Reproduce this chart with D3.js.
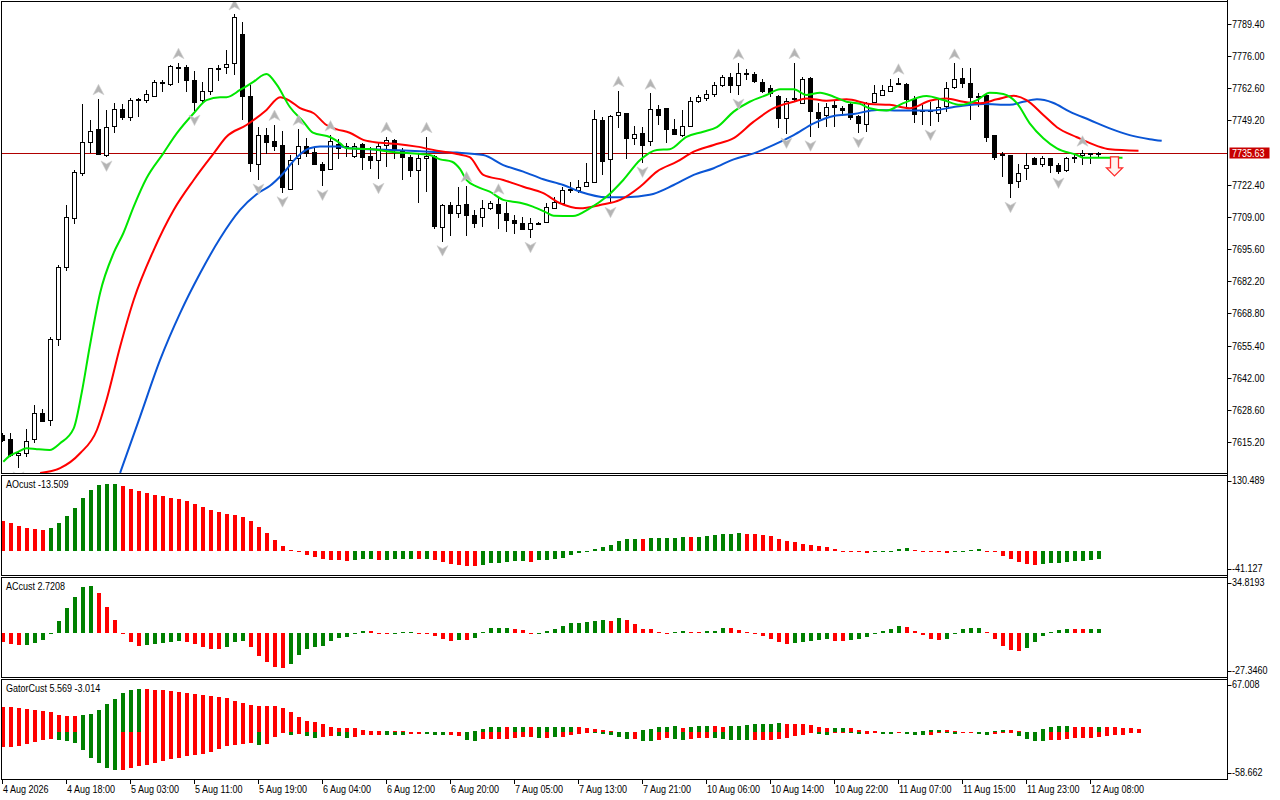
<!DOCTYPE html>
<html>
<head>
<meta charset="utf-8">
<script src="https://cdn.jsdelivr.net/npm/d3@7"></script>
<style>
body { margin: 0; background: #fff; }
svg text { font-family: "Liberation Sans", Arial, sans-serif; font-size: 11px; fill: #000; }
</style>
</head>
<body>
<svg id="chart" width="1280" height="800"></svg>
<script>
// --- candles (H1), bar 0 = left edge
var opens = [7618.1,7616.5,7609.8,7610.6,7616.5,7627.3,7624.4,7658.2,7688.1,7708.6,
7727.3,7740.2,7745.7,7734.8,7746.9,7754.0,7750.6,7757.7,7757.7,7759.4,
7765.0,7764.4,7771.5,7771.5,7766.0,7757.7,7761.5,7771.2,7771.5,7773.2,
7785.2,7759.4,7731.1,7743.1,7740.6,7739.0,7720.6,7733.4,7738.6,7736.2,
7731.1,7729.0,7739.4,7738.2,7734.4,7739.4,7734.4,7732.7,7739.0,7741.1,
7736.6,7733.9,7728.6,7733.4,7734.4,7704.9,7713.9,7710.5,7714.4,7709.8,
7708.9,7712.6,7714.4,7710.5,7707.7,7706.6,7703.9,7706.4,7706.6,7713.0,
7714.9,7720.5,7720.5,7721.6,7723.4,7749.4,7733.0,7751.5,7752.2,7741.8,
7743.9,7740.4,7753.9,7754.3,7745.6,7743.4,7747.0,7757.3,7758.4,7760.2,
7764.0,7767.2,7764.0,7768.9,7768.6,7765.4,7762.6,7759.4,7750.5,7758.2,
7756.6,7766.8,7752.9,7751.5,7755.6,7754.3,7756.0,7751.0,7748.0,7756.6,
7759.8,7761.6,7764.7,7764.4,7758.0,7753.6,7753.4,7752.2,7754.9,7763.0,
7766.8,7764.9,7759.4,7759.8,7743.1,7735.2,7734.8,7724.0,7729.3,7733.4,
7731.1,7733.4,7730.6,7728.2,7733.6,7734.8,7735.6,7735.5];
var highs = [7619.0,7619.0,7611.5,7620.6,7630.6,7629.0,7659.0,7689.0,7714.0,7728.6,
7756.0,7749.4,7758.2,7753.6,7756.5,7756.0,7758.6,7758.6,7761.9,7766.0,
7766.0,7772.5,7773.3,7772.4,7769.8,7765.2,7771.2,7772.3,7778.6,7793.6,
7790.2,7764.0,7746.5,7746.0,7747.5,7744.8,7734.8,7745.5,7741.9,7737.7,
7732.0,7743.1,7741.4,7739.8,7739.8,7739.8,7738.3,7739.7,7742.5,7741.4,
7737.7,7734.8,7735.8,7742.4,7734.8,7714.4,7715.4,7721.4,7721.9,7711.9,
7716.1,7715.5,7716.8,7715.4,7709.8,7708.9,7708.4,7707.0,7714.7,7717.4,
7721.6,7723.7,7724.4,7731.4,7753.6,7750.5,7751.5,7761.6,7752.5,7746.9,
7746.6,7760.5,7755.7,7754.3,7749.7,7753.6,7758.9,7759.8,7761.9,7765.4,
7768.1,7769.1,7773.0,7770.5,7769.2,7766.4,7764.0,7759.8,7758.4,7773.3,
7767.4,7767.4,7756.6,7756.6,7757.7,7755.2,7756.6,7751.5,7757.0,7764.0,
7764.0,7766.4,7766.8,7764.7,7759.4,7755.6,7757.0,7758.4,7765.4,7773.0,
7770.9,7770.9,7760.8,7760.5,7743.1,7736.2,7734.8,7731.1,7735.5,7734.1,
7734.4,7733.6,7731.6,7733.9,7734.8,7736.8,7735.8,7736.0];
var lows = [7615.0,7609.0,7604.4,7609.0,7614.8,7623.5,7621.9,7655.2,7686.5,7706.1,
7726.0,7735.6,7735.0,7734.0,7744.0,7749.4,7749.0,7750.6,7756.5,7759.0,
7761.0,7763.5,7764.8,7761.0,7753.1,7756.5,7760.0,7765.6,7768.6,7768.0,
7749.4,7727.7,7724.4,7735.2,7736.5,7719.1,7720.2,7730.6,7734.1,7730.6,
7721.9,7728.6,7733.0,7734.0,7733.6,7728.6,7728.9,7724.7,7729.8,7733.0,
7724.4,7725.8,7714.7,7719.5,7703.9,7698.7,7701.1,7708.7,7701.1,7704.3,
7704.9,7712.0,7703.9,7702.9,7701.9,7703.6,7700.1,7706.0,7706.4,7712.6,
7714.4,7719.1,7718.9,7721.3,7723.0,7726.5,7714.7,7745.9,7733.0,7739.0,
7731.5,7738.6,7747.3,7739.9,7743.0,7742.4,7746.6,7756.4,7757.3,7759.1,
7763.0,7760.8,7759.8,7766.0,7764.7,7760.8,7758.9,7745.9,7743.6,7757.5,
7756.4,7742.4,7745.9,7746.4,7746.6,7751.1,7749.4,7743.9,7744.5,7756.4,
7759.8,7761.2,7764.0,7754.9,7748.0,7747.3,7746.9,7748.7,7752.9,7762.2,
7762.6,7749.4,7754.8,7740.4,7732.7,7725.8,7716.8,7720.9,7724.4,7730.6,
7729.9,7727.2,7726.9,7727.9,7731.6,7730.6,7731.0,7734.0];
var closes = [7616.0,7609.8,7610.6,7615.6,7627.3,7624.0,7658.2,7688.1,7709.0,7727.7,
7740.2,7744.8,7735.2,7746.5,7754.0,7750.6,7757.7,7758.0,7760.2,7765.2,
7765.4,7771.9,7771.3,7766.0,7756.9,7761.5,7771.0,7770.8,7772.7,7792.3,
7759.4,7731.5,7743.1,7740.2,7738.6,7721.6,7732.7,7738.6,7735.8,7731.1,
7728.6,7740.8,7737.6,7738.5,7738.6,7733.9,7732.7,7738.7,7741.1,7736.9,
7734.1,7728.6,7733.4,7734.4,7705.4,7713.9,7710.5,7713.9,7709.8,7706.4,
7712.6,7714.7,7710.5,7707.7,7706.6,7703.9,7706.4,7706.6,7713.0,7715.4,
7720.2,7719.9,7721.6,7723.4,7749.7,7732.4,7751.0,7752.9,7741.8,7743.6,
7739.0,7753.9,7751.5,7745.5,7743.4,7747.0,7757.3,7758.9,7760.2,7764.0,
7767.2,7764.0,7768.9,7768.7,7765.8,7761.6,7760.5,7750.1,7757.4,7758.6,
7766.4,7752.9,7750.5,7754.9,7754.9,7753.6,7750.5,7748.0,7756.6,7760.5,
7761.9,7763.7,7764.4,7758.0,7751.9,7753.3,7753.2,7754.9,7762.6,7766.4,
7764.9,7759.1,7758.9,7742.4,7733.9,7734.8,7723.3,7727.2,7730.7,7731.1,
7733.4,7730.6,7727.9,7733.4,7733.9,7735.5,7735.4,7735.63];

// --- alligator lines: [bar, price]
var jawLine = [[14.7,7602.3],[17.2,7625.8],[19.7,7649.4],[22.2,7668.9],[24.7,7685.5],[27.2,7700.1],[29.7,7711.9],[32.2,7719.5],[33.4,7721.9],[35.1,7727.2],[36.8,7733.9],[38.4,7737.6],[39.7,7738.3],[42.2,7738.3],[43.4,7737.6],[48.4,7736.9],[53.4,7736.2],[56.8,7735.8],[60.1,7734.8],[62.6,7730.6],[65.1,7727.9],[67.6,7724.7],[70.1,7722.3],[72.2,7719.5],[75.5,7717.2],[78.0,7717.2],[80.9,7718.2],[83.9,7722.3],[86.4,7726.5],[88.9,7729.3],[91.4,7733.0],[93.9,7735.5],[96.4,7739.0],[98.9,7743.1],[101.4,7748.0],[103.9,7751.1],[106.4,7751.9],[109.3,7753.6],[112.6,7753.3],[115.9,7753.3],[119.3,7755.0],[122.6,7756.1],[125.9,7755.7],[127.6,7757.0],[129.3,7758.0],[131.3,7756.6],[133.4,7752.9],[135.9,7749.4],[138.4,7745.9],[140.9,7743.1],[143.4,7741.4],[144.9,7740.7]];
var teethLine = [[4.7,7602.3],[7.2,7604.3],[9.7,7610.5],[11.8,7620.2],[13.0,7632.7],[14.7,7654.9],[16.4,7674.4],[18.9,7695.2],[21.4,7711.9],[23.9,7724.4],[26.4,7735.5],[28.0,7742.4],[30.5,7747.3],[33.0,7753.6],[34.7,7758.9],[35.9,7757.4],[37.2,7754.3],[38.9,7752.2],[40.5,7747.3],[41.8,7745.5],[43.4,7744.1],[45.1,7741.1],[47.2,7739.9],[49.3,7739.4],[51.8,7738.3],[54.3,7736.6],[56.8,7735.2],[58.4,7733.9],[60.1,7726.5],[62.6,7724.4],[65.1,7721.6],[67.6,7718.9],[69.7,7714.7],[72.2,7712.6],[74.7,7714.0],[77.2,7716.1],[79.7,7721.6],[81.8,7727.9],[84.3,7732.0],[86.4,7736.2],[88.9,7739.0],[91.4,7741.8],[93.9,7748.7],[96.4,7754.3],[98.9,7757.0],[100.5,7758.4],[103.0,7757.4],[105.5,7758.0],[108.4,7756.1],[110.9,7755.7],[113.4,7754.3],[115.9,7757.4],[118.0,7758.4],[120.1,7757.0],[122.2,7756.4],[124.3,7758.0],[126.4,7759.5],[128.0,7757.7],[130.1,7751.5],[131.8,7746.4],[134.3,7742.2],[136.8,7738.6],[138.4,7737.2],[142.0,7736.6]];
var lipsLine = [[0.1,7607.0],[0.9,7609.4],[2.0,7611.2],[3.0,7612.6],[4.3,7612.2],[5.9,7611.9],[7.2,7614.7],[8.9,7620.9],[9.9,7635.7],[10.9,7654.9],[12.2,7677.3],[13.9,7694.0],[15.1,7702.2],[16.4,7713.3],[18.0,7725.1],[20.1,7735.5],[21.8,7743.9],[23.9,7752.2],[25.5,7757.7],[27.2,7758.9],[28.0,7758.9],[29.7,7761.9],[31.4,7765.4],[32.6,7768.2],[33.0,7768.6],[34.3,7764.0],[35.9,7754.9],[37.6,7748.7],[38.8,7744.1],[41.0,7742.2],[42.2,7739.7],[43.0,7737.6],[45.9,7737.3],[48.4,7736.2],[52.2,7735.2],[53.4,7734.8],[54.7,7733.0],[56.2,7732.0],[57.2,7728.9],[58.0,7724.4],[59.3,7721.6],[60.9,7719.5],[62.6,7716.1],[64.7,7714.9],[66.3,7713.3],[68.0,7710.8],[68.9,7709.5],[71.3,7709.4],[73.4,7712.6],[75.5,7717.4],[77.6,7724.4],[79.7,7732.7],[81.8,7736.9],[83.4,7737.2],[85.5,7742.4],[87.6,7744.5],[89.3,7746.4],[91.4,7752.9],[93.4,7757.0],[95.5,7759.8],[97.2,7762.2],[98.9,7762.2],[100.5,7759.8],[102.2,7760.8],[103.9,7759.1],[105.5,7757.0],[107.2,7756.1],[108.4,7754.3],[110.5,7753.3],[112.6,7756.4],[115.5,7759.4],[117.6,7757.7],[119.7,7755.7],[121.8,7757.7],[123.4,7760.8],[125.1,7760.2],[126.8,7756.4],[128.4,7748.0],[130.1,7741.8],[131.8,7737.6],[134.3,7734.8],[135.1,7733.7],[137.6,7733.7],[140.0,7733.7]];

// --- fractals and signal
var fractalUp = [12,22,29,34,37,41,48,53,58,62,77,81,92,99,112,119,135];
var fractalDown = [2,13,24,32,35,40,47,55,66,76,80,92,98,101,107,116,126,132];
var sellBars = [139];
var sellPrices = [7734.0];
var lastPrice = 7735.63;

// --- price scale labels
var priceTicks = [7789.40,7776.00,7762.60,7749.20,7722.40,7709.00,7695.60,7682.20,7668.80,7655.40,7642.00,7628.60,7615.20];

// --- AO
var aoValues = [51.5,48.0,42.9,40.0,38.3,36.6,40.0,48.0,60.1,74.4,
90.9,105.2,113.3,115.0,115.2,111.5,106.4,103.0,99.5,96.1,
94.4,90.9,89.2,85.8,80.7,75.5,70.4,66.9,63.5,61.8,
58.3,51.5,41.2,30.9,18.9,8.6,1.7,-0.6,-6.3,-10.3,
-13.2,-14.9,-15.4,-17.2,-15.4,-13.7,-13.4,-14.9,-14.6,-13.7,
-13.5,-13.4,-13.8,-13.6,-14.9,-18.9,-22.3,-24.0,-25.7,-25.9,
-23.5,-20.6,-20.3,-18.9,-17.2,-17.0,-18.9,-15.4,-14.9,-13.7,
-11.4,-6.3,-2.9,-1.1,2.9,6.9,10.3,17.2,20.6,20.7,
20.5,22.3,22.4,22.5,22.6,24.0,23.9,24.1,25.7,27.5,
29.2,29.3,30.9,29.2,29.1,27.5,25.7,20.6,17.2,15.4,
12.0,10.3,8.6,6.9,3.4,-0.6,-0.8,-1.1,-2.9,-1.1,
-0.6,0.6,2.9,5.1,1.7,0.6,-0.6,-2.3,-2.9,-1.1,
0.6,1.1,2.9,0.6,-0.6,-8.0,-13.2,-18.9,-21.7,-23.5,
-21.7,-20.0,-19.9,-18.3,-16.6,-16.5,-14.9,-13.5];
var aoDirs = "rrrrrr ggggggggg rrrrrrrrrr rrrrrrrrrr rrrrrrrrr ggg r gggg r g rrrrrr gggggg r ggggggggggggg r ggggg r gggggg rrrrrrrrrr rrrrrr ggggg rrrrr gggg rrrrrrr gggggggg";
var aoDomain = [-41.127, 130.489];
var aoLabels = ["130.489", "-41.127"];

// --- AC
var acValues = [-5.4,-6.6,-7.7,-7.5,-6.0,-4.1,-0.3,7.5,15.5,22.4,
28.6,29.2,24.9,16.2,8.3,-0.3,-5.4,-7.9,-7.5,-6.6,
-6.0,-5.4,-4.8,-5.4,-6.6,-8.5,-9.7,-9.8,-8.5,-5.4,
-4.8,-8.5,-14.1,-17.8,-20.9,-21.5,-19.1,-13.5,-9.7,-8.5,
-7.9,-4.8,-3.3,-2.3,-0.4,1.2,1.0,-0.2,-0.3,0.2,
0.4,0.5,-0.2,-0.3,-1.7,-3.5,-4.8,-4.1,-4.2,-2.9,
0.4,3.1,3.2,3.3,2.5,1.7,-0.2,0.2,1.2,2.5,
4.4,6.2,6.3,6.8,7.5,8.1,7.5,9.3,8.1,5.6,
2.5,2.4,0.4,0.3,0.4,1.0,0.9,0.4,1.0,1.5,
3.1,3.0,1.7,0.4,-0.4,-1.9,-3.7,-5.6,-6.8,-6.2,
-5.6,-5.0,-4.4,-3.7,-5.0,-5.1,-4.4,-3.7,-2.5,-0.4,
1.0,2.5,4.4,3.7,1.2,-1.2,-3.7,-4.4,-3.7,-0.4,
2.5,3.1,3.2,0.6,-3.7,-8.1,-10.6,-11.2,-9.3,-5.6,
-1.9,0.6,1.9,2.5,2.4,2.3,2.5,2.72];
var acDirs = "rrr ggggggggg rrrrrr ggggg rrrrr ggg rrrrr gggggggggg rrr ggg rrrrr g r ggggg rrr ggggggggg r g rrrrrr gg rr ggg rrrrrrrr ggggg rr ggggggg rrrrr ggggg rrrrr gggggg rr gg";
var acDomain = [-27.3460, 34.8193];
var acLabels = ["34.8193", "-27.3460"];

// --- Gator
var gatorUp = [32.3,32.3,31.0,29.7,28.5,27.2,25.6,22.2,20.9,20.9,
22.2,23.5,28.5,36.0,42.3,49.9,53.6,54.9,54.9,53.6,
53.2,51.9,50.7,49.8,48.6,47.3,46.1,44.8,43.6,39.8,
37.3,34.8,33.5,33.5,33.5,31.0,26.0,19.7,14.7,13.4,
10.9,7.1,5.9,5.9,5.9,3.4,2.1,2.1,2.1,2.1,
2.1,0.8,0.3,0.3,0.8,0.3,0.3,0.8,0.8,2.1,
4.6,7.1,7.1,7.1,7.1,7.1,7.1,7.1,7.1,7.1,
7.1,7.1,7.1,5.9,4.6,3.4,2.1,0.8,0.3,0.8,
3.4,4.6,7.1,7.1,8.4,5.9,7.1,8.4,8.4,8.4,
7.1,8.4,8.4,9.6,10.9,10.9,10.9,12.1,10.9,10.9,
10.9,9.6,7.1,5.9,5.9,5.9,5.9,3.4,2.1,2.1,
0.8,0.8,0.8,0.3,0.8,2.1,3.4,3.4,3.4,2.1,
0.8,0.3,0.3,0.3,2.1,3.4,3.4,2.1,0.3,0.8,
4.6,7.1,8.4,8.4,7.1,7.1,7.1,7.1,7.1,7.1,
5.9,5.9,4.6];
var gatorUpDirs = "rrrrrrrrrr gggggggg rrrrrrrrrr rrrrrrrrrr rrrrrrrrrr g rrrr gg rr gggggg r gg r ggg gg rrrrrr g r ggggg r ggg rr ggggggg rrrrrr gg rrrrrrr ggggg rrrr gggg rr gggggg rrr g rrrrr";
var gatorDown = [-18.9,-19.3,-17.6,-15.5,-13.0,-10.5,-8.8,-10.5,-11.7,-13.8,
-23.0,-33.1,-39.4,-45.7,-48.2,-48.2,-45.7,-43.1,-41.9,-39.4,
-36.9,-33.9,-32.3,-30.2,-28.9,-27.2,-24.7,-21.8,-17.6,-16.3,
-14.7,-13.4,-15.9,-15.1,-6.7,-1.3,-3.8,-2.9,-5.0,-7.5,
-6.3,-5.0,-5.0,-7.5,-6.3,-3.8,-3.8,-3.8,-3.8,-3.8,
-3.8,-2.5,-2.1,-2.1,-3.8,-3.8,-3.8,-5.0,-10.1,-11.3,
-8.8,-8.8,-8.8,-8.8,-7.5,-6.3,-6.3,-7.5,-7.5,-6.3,
-6.3,-3.8,-2.5,-1.7,-1.7,-2.9,-3.8,-6.3,-8.8,-8.8,
-11.3,-11.3,-10.1,-7.5,-8.8,-10.1,-8.8,-7.5,-7.5,-7.5,
-8.8,-10.1,-10.1,-10.1,-10.1,-10.1,-10.1,-8.8,-7.5,-5.0,
-3.8,-1.3,-2.5,-3.8,-1.3,-1.3,-1.3,-2.5,-2.5,-1.3,
-2.5,-2.5,-1.3,-2.5,-3.8,-3.8,-3.8,-1.3,-1.3,-2.5,
-1.3,-0.4,-2.5,-3.8,-2.5,-1.3,-1.3,-5.0,-8.8,-11.3,
-11.3,-10.1,-10.1,-8.8,-7.5,-7.5,-7.5,-6.3,-5.0,-3.8,
-3.8];
var gatorDownDirs = "rrrrrrr gggggggg rrrrrrrrrr rrrrrrr g rrr g r gg rr gg rrrr ggg rr ggg rr gg rrrrrrr g r g rrrr ggggg r gg rr gg rrr ggggg rrrrrrrr gg rr gg rr gg r ggg rr gg rr gg rrr gggg rrrrrrrrrr";
var gatorDomain = [-58.662, 67.008];
var gatorLabels = ["67.008", "-58.662"];

// --- time axis
var timeBars = [0,8,16,24,32,40,48,56,64,72,80,88,96,104,112,120,128,136];
var timeLabels = ["4 Aug 2026","4 Aug 18:00","5 Aug 03:00","5 Aug 11:00","5 Aug 19:00","6 Aug 04:00","6 Aug 12:00","6 Aug 20:00","7 Aug 05:00","7 Aug 13:00","7 Aug 21:00","10 Aug 06:00","10 Aug 14:00","10 Aug 22:00","11 Aug 07:00","11 Aug 15:00","11 Aug 23:00","12 Aug 08:00"];

var titles = ["AOcust -13.509", "ACcust 2.7208", "GatorCust 5.569 -3.014"];

// ------------------------------------------------------------------
var GREEN = "#008000", RED = "#ff0000";
var plotLeft = 1.5, plotRight = 1227.5;
var panes = [
  {id: "main", top: 1.5, bottom: 473.5},
  {id: "ao", top: 475.5, bottom: 575.5},
  {id: "ac", top: 577.5, bottom: 677.5},
  {id: "gator", top: 679.5, bottom: 779.5}
];
// the terminal font is narrower than Liberation Sans, squeeze it a bit
var SQUEEZE = 0.82;
function at(px, py) { return "translate(" + px + "," + py + ") scale(" + SQUEEZE + ",1)"; }

var svg = d3.select("#chart");

// bar index -> pixel centre (8px per bar)
var x = d3.scaleLinear().domain([0, 1]).range([2.5, 10.5]);
var yMain = d3.scaleLinear().domain([7615.2, 7789.4]).range([442, 24]);
var yAO = d3.scaleLinear().domain(aoDomain).range([575, 475]);
var yAC = d3.scaleLinear().domain(acDomain).range([677, 577]);
var yGator = d3.scaleLinear().domain(gatorDomain).range([779, 679]);

function dirs(s) { return s.replace(/ /g, "").split(""); }

var defs = svg.append("defs");
panes.forEach(function(p) {
  defs.append("clipPath").attr("id", "clip-" + p.id)
    .append("rect")
    .attr("x", plotLeft + 0.5).attr("y", p.top + 0.5)
    .attr("width", plotRight - plotLeft - 1).attr("height", p.bottom - p.top - 1);
});

// ---------------- main pane ----------------
var main = svg.append("g").attr("clip-path", "url(#clip-main)");

// current price line
main.append("line")
  .attr("x1", plotLeft).attr("x2", plotRight)
  .attr("y1", Math.round(yMain(lastPrice)) + 0.5).attr("y2", Math.round(yMain(lastPrice)) + 0.5)
  .attr("stroke", "#b00000").attr("stroke-width", 1);

var candles = opens.map(function(o, i) {
  return {i: i, o: o, h: highs[i], l: lows[i], c: closes[i]};
});
var cg = main.append("g").attr("shape-rendering", "crispEdges");
cg.selectAll("line.wick").data(candles).join("line")
  .attr("class", "wick")
  .attr("x1", function(d) { return x(d.i); }).attr("x2", function(d) { return x(d.i); })
  .attr("y1", function(d) { return Math.round(yMain(d.h)); })
  .attr("y2", function(d) { return Math.round(yMain(d.l)); })
  .attr("stroke", "#000");
cg.selectAll("rect.body").data(candles).join("rect")
  .attr("class", "body")
  .attr("x", function(d) { return x(d.i) - 2; })
  .attr("width", 4)
  .attr("y", function(d) { return Math.round(yMain(Math.max(d.o, d.c))) + 0.5; })
  .attr("height", function(d) { return Math.max(1, Math.round(Math.abs(yMain(d.o) - yMain(d.c)))); })
  .attr("fill", function(d) { return d.c >= d.o ? "#fff" : "#000"; })
  .attr("stroke", "#000");

// alligator
var lineGen = d3.line()
  .x(function(d) { return x(d[0]); })
  .y(function(d) { return yMain(d[1]); })
  .curve(d3.curveMonotoneX);
[[jawLine, "#0a55d5"], [teethLine, "#ff0000"], [lipsLine, "#00e600"]].forEach(function(s) {
  main.append("path").datum(s[0])
    .attr("d", lineGen)
    .attr("fill", "none").attr("stroke", s[1]).attr("stroke-width", 2)
    .attr("stroke-linejoin", "round");
});

// fractal arrows
var upShape = "M0,-5.5 L5.5,5 L0,2 L-5.5,5 Z";
var downShape = "M0,5.5 L5.5,-5 L0,-2 L-5.5,-5 Z";
main.selectAll("path.fup").data(fractalUp).join("path")
  .attr("class", "fup")
  .attr("d", upShape)
  .attr("transform", function(b) { return "translate(" + x(b) + "," + (yMain(highs[b]) - 9) + ")"; })
  .attr("fill", "#b4b4b4").attr("stroke", "#d0d0d0").attr("stroke-width", 0.6);
main.selectAll("path.fdn").data(fractalDown).join("path")
  .attr("class", "fdn")
  .attr("d", downShape)
  .attr("transform", function(b) { return "translate(" + x(b) + "," + (yMain(lows[b]) + 9) + ")"; })
  .attr("fill", "#b4b4b4").attr("stroke", "#d0d0d0").attr("stroke-width", 0.6);

// sell arrow
var sellShape = "M-4,0 L4,0 L4,11 L8,11 L0,19 L-8,11 L-4,11 Z";
main.selectAll("path.sell").data(sellBars).join("path")
  .attr("class", "sell")
  .attr("d", sellShape)
  .attr("transform", function(b, i) { return "translate(" + x(b) + "," + yMain(sellPrices[i]) + ")"; })
  .attr("fill", "#fff4f0").attr("stroke", "#ff2a2a").attr("stroke-width", 1.3);

// ---------------- histogram panes ----------------
function histogram(paneId, values, dirStr, yScale) {
  var cols = dirs(dirStr);
  var g = svg.append("g").attr("clip-path", "url(#clip-" + paneId + ")").attr("shape-rendering", "crispEdges");
  var y0 = yScale(0);
  g.selectAll("rect").data(values).join("rect")
    .attr("x", function(d, i) { return Math.round(x(i) - 2); })
    .attr("width", 4)
    .attr("y", function(d) { return Math.round(Math.min(y0, yScale(d))); })
    .attr("height", function(d) { return Math.max(1, Math.round(Math.abs(yScale(d) - y0))); })
    .attr("fill", function(d, i) { return cols[i] === "g" ? GREEN : RED; });
}
histogram("ao", aoValues, aoDirs, yAO);
histogram("ac", acValues, acDirs, yAC);
histogram("gator", gatorUp, gatorUpDirs, yGator);
histogram("gator", gatorDown, gatorDownDirs, yGator);

// ---------------- frames ----------------
panes.forEach(function(p) {
  svg.append("rect")
    .attr("x", plotLeft).attr("y", p.top)
    .attr("width", plotRight - plotLeft).attr("height", p.bottom - p.top)
    .attr("fill", "none").attr("stroke", "#000").attr("stroke-width", 1);
});
svg.append("line").attr("x1", plotRight).attr("x2", plotRight)
  .attr("y1", 0).attr("y2", 780).attr("stroke", "#000");

// ---------------- price axis ----------------
var ax = svg.append("g");
ax.selectAll("line.pt").data(priceTicks).join("line")
  .attr("class", "pt")
  .attr("x1", plotRight).attr("x2", plotRight + 4)
  .attr("y1", function(d) { return Math.round(yMain(d)) + 0.5; })
  .attr("y2", function(d) { return Math.round(yMain(d)) + 0.5; })
  .attr("stroke", "#000");
ax.selectAll("text.pt").data(priceTicks).join("text")
  .attr("class", "pt")
  .attr("transform", function(d) { return at(plotRight + 4.5, yMain(d)); })
  .attr("dy", "0.36em")
  .text(function(d) { return d.toFixed(2); });

// current price box
var lpY = Math.round(yMain(lastPrice));
ax.append("rect").attr("x", plotRight + 2).attr("y", lpY - 5.5)
  .attr("width", 40).attr("height", 11).attr("fill", "#c80000");
ax.append("text").attr("transform", at(plotRight + 4.5, lpY)).attr("dy", "0.36em")
  .style("fill", "#fff").text(lastPrice.toFixed(2));

// sub pane scale labels
[[aoLabels, panes[1]], [acLabels, panes[2]], [gatorLabels, panes[3]]].forEach(function(s) {
  var p = s[1];
  var ys = [p.top + 5, p.bottom - 7];
  s[0].forEach(function(lbl, k) {
    ax.append("line").attr("x1", plotRight).attr("x2", plotRight + 4)
      .attr("y1", Math.round(ys[k]) + 0.5).attr("y2", Math.round(ys[k]) + 0.5).attr("stroke", "#000");
    ax.append("text").attr("transform", at(plotRight + 4.5, ys[k])).attr("dy", "0.36em").text(lbl);
  });
});

// pane titles
titles.forEach(function(t, k) {
  svg.append("text").attr("transform", at(6, panes[k + 1].top + 12.5)).text(t);
});

// ---------------- time axis ----------------
var tx = svg.append("g");
tx.selectAll("line").data(timeBars).join("line")
  .attr("x1", function(b) { return x(b); }).attr("x2", function(b) { return x(b); })
  .attr("y1", 779.5).attr("y2", 784).attr("stroke", "#000");
tx.selectAll("text").data(timeBars).join("text")
  .attr("transform", function(b) { return at(x(b) + 0.5, 793); })
  .text(function(b, i) { return timeLabels[i]; });
</script>
</body>
</html>
